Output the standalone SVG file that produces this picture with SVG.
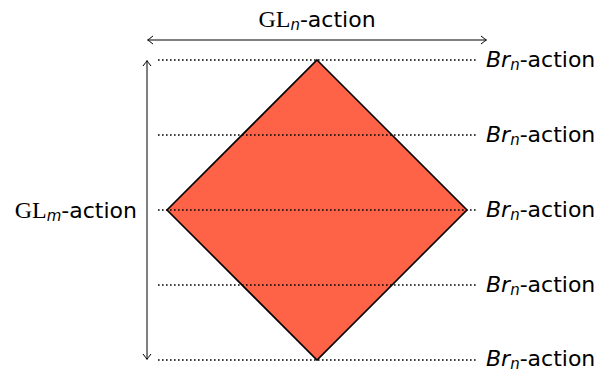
<svg xmlns="http://www.w3.org/2000/svg" width="602" height="372" viewBox="0 0 602 372">
<defs>
<style>
.dot{stroke:#000;stroke-width:1.6;stroke-dasharray:1.6 2.4;fill:none}
.ax{stroke:#000;stroke-width:1;fill:none}
.sans{font-family:"DejaVu Sans","Liberation Sans",sans-serif;font-size:22px}
.sub{font-family:"DejaVu Sans","Liberation Sans",sans-serif;font-size:15px;font-style:italic}
.ser{font-family:"Liberation Serif","DejaVu Serif",serif;font-size:24px}
.it{font-style:italic}
</style>
<marker id="ah" viewBox="-6 -5 8 10" markerWidth="8" markerHeight="10" refX="0" refY="0" orient="auto-start-reverse" markerUnits="userSpaceOnUse">
<path d="M-5,-4 Q-1,-0.8 0.5,0 Q-1,0.8 -5,4" fill="none" stroke="#000" stroke-width="1"/>
</marker>
</defs>
<g id="diamond">
<polygon points="317,60 467,210 317,360 167,210" fill="#ff6347" stroke="#000" stroke-width="1.6" stroke-linejoin="miter"/>
</g>
<g id="connectors">
<line class="dot" x1="158" y1="60" x2="478" y2="60"/>
<line class="dot" x1="158" y1="135" x2="478" y2="135"/>
<line class="dot" x1="158" y1="210" x2="478" y2="210"/>
<line class="dot" x1="158" y1="285" x2="478" y2="285"/>
<line class="dot" x1="158" y1="360" x2="478" y2="360"/>
<line class="ax" x1="148" y1="40" x2="486" y2="40" marker-start="url(#ah)" marker-end="url(#ah)"/>
<line class="ax" x1="147" y1="61" x2="147" y2="359" marker-start="url(#ah)" marker-end="url(#ah)"/>
</g>
<g id="label-top">
<text x="317" y="27" text-anchor="middle"><tspan class="ser">GL</tspan><tspan class="sub" dy="3">n</tspan><tspan class="sans" dy="-3">-action</tspan></text>
</g>
<g id="label-left">
<text x="137" y="218" text-anchor="end"><tspan class="ser">GL</tspan><tspan class="sub" dy="3">m</tspan><tspan class="sans" dy="-3">-action</tspan></text>
</g>
<g id="label-r1"><text x="486" y="67"><tspan class="sans it">Br</tspan><tspan class="sub" dy="3">n</tspan><tspan class="sans" dy="-3">-action</tspan></text></g>
<g id="label-r2"><text x="486" y="142"><tspan class="sans it">Br</tspan><tspan class="sub" dy="3">n</tspan><tspan class="sans" dy="-3">-action</tspan></text></g>
<g id="label-r3"><text x="486" y="217"><tspan class="sans it">Br</tspan><tspan class="sub" dy="3">n</tspan><tspan class="sans" dy="-3">-action</tspan></text></g>
<g id="label-r4"><text x="486" y="292"><tspan class="sans it">Br</tspan><tspan class="sub" dy="3">n</tspan><tspan class="sans" dy="-3">-action</tspan></text></g>
<g id="label-r5"><text x="486" y="366"><tspan class="sans it">Br</tspan><tspan class="sub" dy="3">n</tspan><tspan class="sans" dy="-3">-action</tspan></text></g>
</svg>
